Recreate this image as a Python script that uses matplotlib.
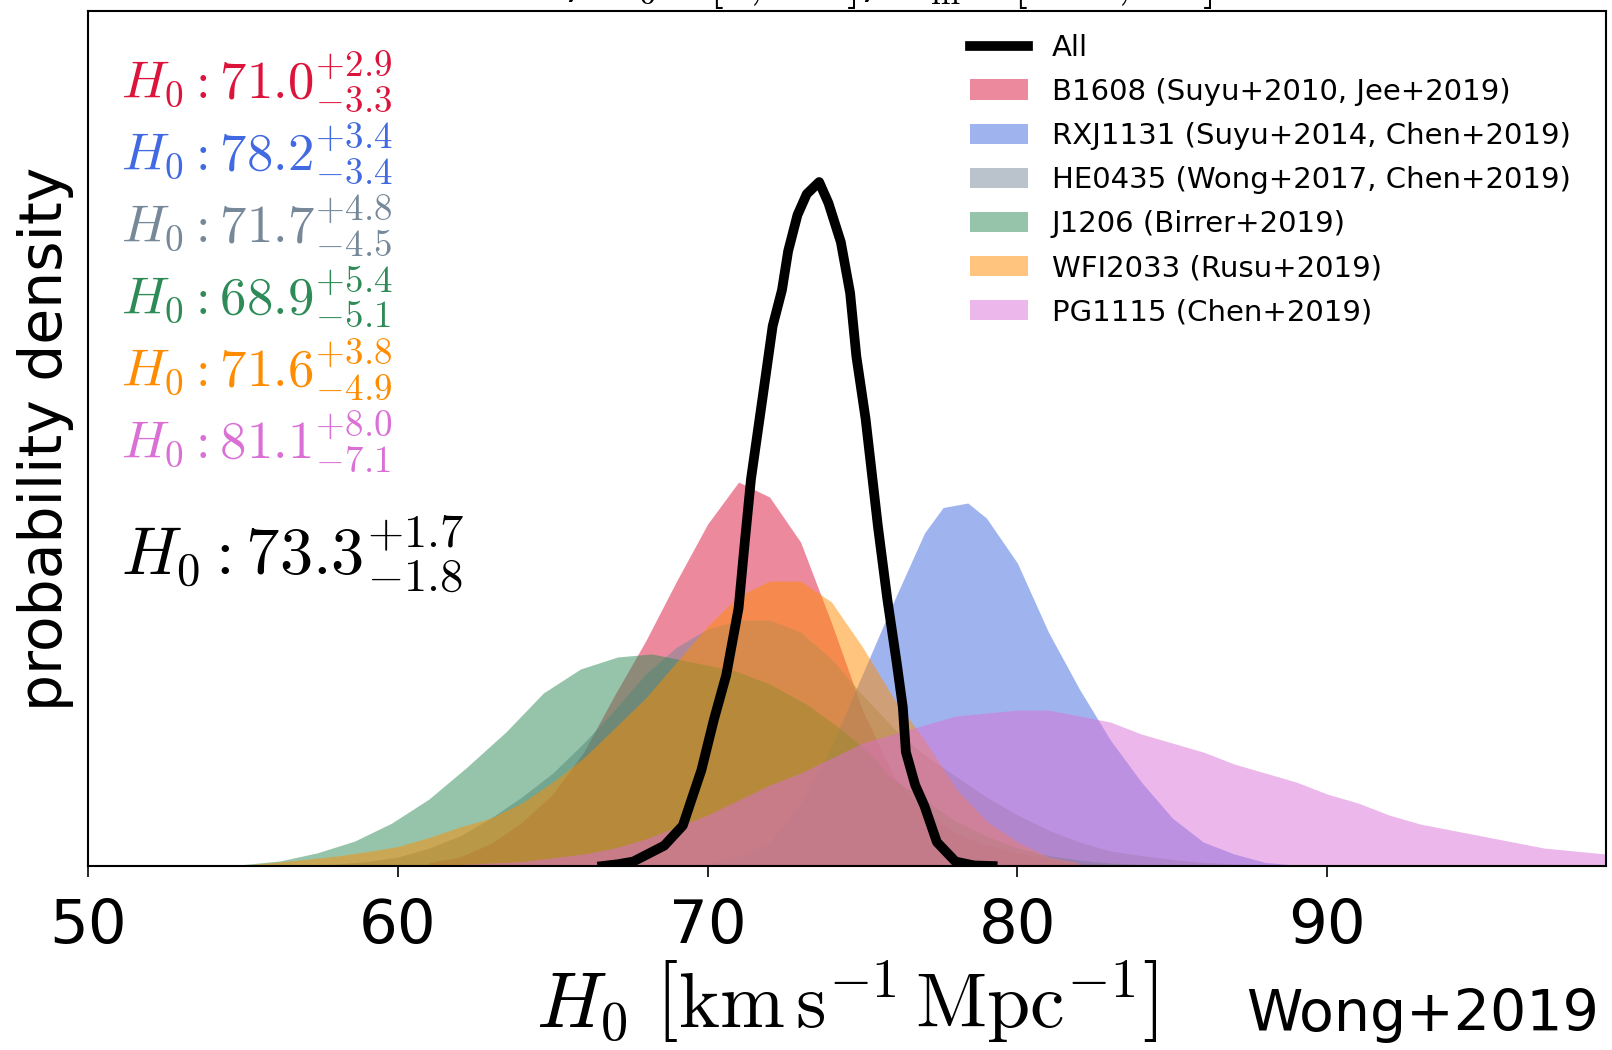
import numpy as np
import matplotlib.pyplot as plt

plt.rcParams['mathtext.fontset'] = 'cm'

# H0 posteriors (probability density vs H0)
b1608_x = [61, 62, 63, 64, 65, 66, 67, 68, 69, 70, 71, 72, 73, 74, 75, 76, 77, 78, 79, 80, 81, 82, 83]
b1608_y = [0.0012, 0.003, 0.0075, 0.0145, 0.024, 0.038, 0.057, 0.075, 0.095, 0.114, 0.128, 0.123, 0.108,
           0.081, 0.052, 0.030, 0.018, 0.011, 0.007, 0.0045, 0.0025, 0.001, 0.0005]

rxj1131_x = [69, 70, 71, 72, 73, 74, 75, 76, 77, 77.6, 78.4, 79, 80, 81, 82, 83, 84, 85, 86, 87, 88, 89]
rxj1131_y = [0.0003, 0.001, 0.003, 0.008, 0.021, 0.040, 0.064, 0.088, 0.111, 0.1195, 0.121, 0.116, 0.101,
             0.078, 0.059, 0.042, 0.028, 0.016, 0.008, 0.004, 0.0012, 0.0003]

he0435_x = [57, 58, 59, 60, 61, 62, 63, 64, 65, 66, 67, 68, 69, 70, 71, 72, 73, 74, 75, 76, 77, 78, 79,
            80, 81, 82, 83, 84, 85, 86, 88]
he0435_y = [0.0002, 0.0007, 0.0015, 0.003, 0.006, 0.010, 0.016, 0.023, 0.031, 0.041, 0.052, 0.064, 0.073,
            0.079, 0.082, 0.082, 0.078, 0.069, 0.057, 0.046, 0.037, 0.030, 0.023, 0.017, 0.012, 0.008,
            0.005, 0.0035, 0.0022, 0.0012, 0.0003]

j1206_x = [54, 55, 56.2, 57.4, 58.6, 59.8, 61.0, 62.2, 63.5, 64.7, 65.9, 67.1, 68.2, 69.5, 70.9, 72.0,
           73.2, 74.3, 75.2, 75.9, 77, 78, 79, 80, 81, 82, 83, 84]
j1206_y = [0.0001, 0.0005, 0.0017, 0.0044, 0.0083, 0.0143, 0.0223, 0.0327, 0.0448, 0.0577, 0.0657, 0.0697,
           0.0707, 0.068, 0.065, 0.0607, 0.0539, 0.0457, 0.038, 0.0297, 0.022, 0.015, 0.010, 0.006, 0.0035,
           0.002, 0.001, 0.0005]

wfi2033_x = [55, 56, 57, 58, 59, 60, 61, 62, 63, 64, 65, 66, 67, 68, 69, 70, 71, 72, 73, 74, 75, 76, 77,
             78, 79, 80, 81, 82]
wfi2033_y = [0.0003, 0.0012, 0.0022, 0.0033, 0.0048, 0.0065, 0.0095, 0.013, 0.016, 0.021, 0.028, 0.036,
             0.046, 0.056, 0.068, 0.080, 0.090, 0.095, 0.095, 0.088, 0.073, 0.056, 0.042, 0.026, 0.015,
             0.008, 0.003, 0.001]

pg1115_x = [62, 64, 66, 67, 68, 69, 70, 71, 72, 73, 74, 75, 76, 77, 78, 79, 80, 81, 82, 83, 84, 85, 86,
            87, 88, 89, 90, 91, 92, 93, 94, 95, 96, 97, 98, 99]
pg1115_y = [0.0005, 0.0015, 0.004, 0.006, 0.009, 0.013, 0.017, 0.022, 0.027, 0.031, 0.036, 0.041, 0.044,
            0.047, 0.050, 0.051, 0.052, 0.052, 0.050, 0.048, 0.044, 0.041, 0.038, 0.034, 0.031, 0.028,
            0.024, 0.021, 0.017, 0.014, 0.012, 0.010, 0.008, 0.006, 0.005, 0.004]

all_x = [66.6, 67.1, 67.6, 68.6, 69.2, 69.8, 70.2, 70.6, 71.0, 71.2, 71.4, 71.8, 72.1, 72.4, 72.6, 72.9,
         73.2, 73.6, 73.9, 74.3, 74.6, 74.8, 75.1, 75.3, 75.5, 75.8, 76.1, 76.3, 76.4, 76.7, 77.0, 77.4,
         78.0, 78.6, 79.2]
all_y = [0.0, 0.0006, 0.0015, 0.0068, 0.0135, 0.032, 0.0487, 0.0636, 0.086, 0.108, 0.129, 0.158, 0.180,
         0.192, 0.205, 0.217, 0.224, 0.228, 0.221, 0.208, 0.191, 0.170, 0.149, 0.131, 0.113, 0.089, 0.068,
         0.053, 0.038, 0.027, 0.020, 0.008, 0.0015, 0.0002, 0.0]

labels = ['B1608 (Suyu+2010, Jee+2019)', 'RXJ1131 (Suyu+2014, Chen+2019)',
          'HE0435 (Wong+2017, Chen+2019)', 'J1206 (Birrer+2019)',
          'WFI2033 (Rusu+2019)', 'PG1115 (Chen+2019)']
colors = ['crimson', 'royalblue', 'lightslategray', 'seagreen', 'darkorange', 'orchid']
medians = ['71.0', '78.2', '71.7', '68.9', '71.6', '81.1']
err_up = ['2.9', '3.4', '4.8', '5.4', '3.8', '8.0']
err_lo = ['3.3', '3.4', '4.5', '5.1', '4.9', '7.1']

series = [(b1608_x, b1608_y), (rxj1131_x, rxj1131_y), (he0435_x, he0435_y),
          (j1206_x, j1206_y), (wfi2033_x, wfi2033_y), (pg1115_x, pg1115_y)]

fig = plt.figure(figsize=(16.12, 10.5), dpi=100)
ax = fig.add_axes([0.0546, 0.1752, 0.9417, 0.8143])

ax.plot(all_x, all_y, color='k', lw=7, label='All', zorder=5)
for (xs, ys), c, lab in zip(series, colors, labels):
    ax.fill_between(xs, 0, ys, color=c, alpha=0.5, lw=0, label=lab)

ax.set_xlim(50, 99)
ax.set_ylim(0, 0.285)
ax.set_yticks([])
ax.set_xticks([50, 60, 70, 80, 90])
ax.tick_params(axis='x', labelsize=44, length=8, width=1.2, direction='out', pad=14)
for sp in ax.spines.values():
    sp.set_linewidth(1.5)

ax.set_ylabel('probability density', fontsize=42, labelpad=10)
ax.set_xlabel(r'$H_0\ \left[\mathrm{km\,s^{-1}\,Mpc^{-1}}\right]$', fontsize=56, labelpad=2)

for i, c in enumerate(colors):
    ax.text(0.022, 0.8986 - i * 0.0842,
            r'$H_0: %s^{+%s}_{-%s}$' % (medians[i], err_up[i], err_lo[i]),
            color=c, fontsize=38, transform=ax.transAxes, va='baseline', ha='left')
ax.text(0.022, 0.3395, r'$H_0: 73.3^{+1.7}_{-1.8}$', color='k', fontsize=48,
        transform=ax.transAxes, va='baseline', ha='left')

ax.legend(loc='upper right', bbox_to_anchor=(0.994, 1.004), frameon=False, fontsize=21,
          labelspacing=0.55, handlelength=2.0, handletextpad=0.8)

fig.text(0.992, 0.018, 'Wong+2019', fontsize=41, ha='right', va='baseline')
fig.text(0.7525, 1.004, r'flat $\Lambda$CDM, $H_0 \in [0, 150]$, $\Omega_{\rm m} \in [0.05, 0.5]$',
         fontsize=36, ha='right', va='baseline')

fig.savefig('out.png', dpi=100)
